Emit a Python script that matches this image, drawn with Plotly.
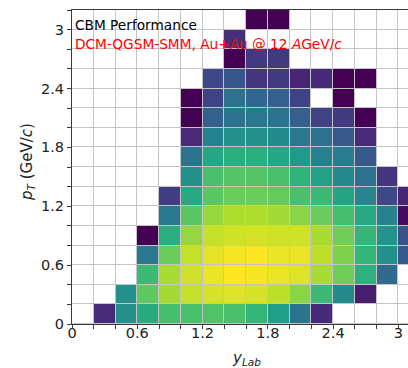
import plotly.graph_objects as go

# Bin edges of the (y_Lab, p_T) histogram
ylab_edges = [0.0, 0.2, 0.4, 0.6, 0.8, 1.0, 1.2, 1.4, 1.6, 1.8, 2.0, 2.2, 2.4, 2.6, 2.8, 3.0, 3.2]
pt_edges = [0.0, 0.2, 0.4, 0.6, 0.8, 1.0, 1.2, 1.4, 1.6, 1.8, 2.0, 2.2, 2.4, 2.6, 2.8, 3.0, 3.2]

# Relative yield per bin (percent of the maximum), one list per p_T bin; None = empty bin
N = None
pt_000_020 = [N, 12, 50, 61, 70, 71, 72, 71, 66, 56, 38, 11, N, N, N, N]
pt_020_040 = [N, N, 50, 75, 86, 91, 94, 95, 94, 90, 82, 68, 48, 8, N, N]
pt_040_060 = [N, N, N, 68, 87, 93, 97, 100, 99, 97, 95, 87, 78, 63, 34, N]
pt_060_080 = [N, N, N, 40, 77, 91, 96, 99, 100, 97, 97, 90, 80, 66, 50, 28]
pt_080_100 = [N, N, N, 0, 62, 84, 91, 93, 94, 93, 93, 87, 78, 66, 52, 25]
pt_100_120 = [N, N, N, N, 40, 74, 84, 88, 88, 86, 82, 77, 70, 60, 45, 3]
pt_120_140 = [N, N, N, N, 18, 60, 74, 77, 77, 76, 71, 68, 58, 46, 22, 10]
pt_140_160 = [N, N, N, N, N, 50, 71, 73, 73, 71, 65, 57, 47, 37, 15, N]
pt_160_180 = [N, N, N, N, N, 38, 59, 62, 62, 59, 54, 44, 42, 28, N, N]
pt_180_200 = [N, N, N, N, N, 12, 44, 50, 50, 48, 40, 37, 28, 12, N, N]
pt_200_220 = [N, N, N, N, N, 0, 30, 38, 40, 38, 30, 20, 17, 0, N, N]
pt_220_240 = [N, N, N, N, N, 0, 20, 37, 33, 30, 20, N, 0, N, N, N]
pt_240_260 = [N, N, N, N, N, N, 22, 27, 15, 17, 10, 11, 0, 0, N, N]
pt_260_280 = [N, N, N, N, N, N, N, 0, 17, 17, N, N, N, N, N, N]
pt_280_300 = [N, N, N, N, N, N, N, 13, N, N, N, N, N, N, N, N]
pt_300_320 = [N, N, N, N, N, N, N, N, 0, 0, N, N, N, N, N, N]

yield_rows = [
    pt_000_020, pt_020_040, pt_040_060, pt_060_080, pt_080_100, pt_100_120,
    pt_120_140, pt_140_160, pt_160_180, pt_180_200, pt_200_220, pt_220_240,
    pt_240_260, pt_260_280, pt_280_300, pt_300_320,
]

tick_vals = [0, 0.6, 1.2, 1.8, 2.4, 3.0]
tick_text = ["0", "0.6", "1.2", "1.8", "2.4", "3"]

W, H = 408, 368
ML, MR, MT, MB = 72, 0, 10, 44
FONT = "DejaVu Sans"
AXIS_COL = "#3a3a3a"
GRID_COL = "#c4c4c4"

fig = go.Figure()

# white cell layer: its 1px gaps reveal the grey plot background as grid lines
fig.add_trace(go.Heatmap(
    x=ylab_edges, y=pt_edges,
    z=[[0] * (len(ylab_edges) - 1) for _ in range(len(pt_edges) - 1)],
    colorscale=[[0, "white"], [1, "white"]], showscale=False,
    xgap=1, ygap=1, hoverinfo="skip",
))

fig.add_trace(go.Heatmap(
    x=ylab_edges, y=pt_edges, z=yield_rows,
    colorscale="Viridis", zmin=0, zmax=100, showscale=False,
    xgap=1, ygap=1,
))

x_span = (W - ML - MR) / 108.8

axis_common = dict(
    showgrid=False, zeroline=False,
    showline=True, linecolor=AXIS_COL, linewidth=1,
    ticks="outside", ticklen=4, tickwidth=1, tickcolor=AXIS_COL,
    tickvals=tick_vals, ticktext=tick_text,
    tickfont=dict(family=FONT, size=14.5, color="#222222"),
    minor=dict(tickvals=ylab_edges, ticks="outside", ticklen=4,
               tickwidth=1, tickcolor=AXIS_COL, showgrid=False),
)

fig.update_xaxes(range=[0, x_span], mirror=True, ticklabelstandoff=-8, **axis_common)
fig.update_yaxes(range=[0, 3.2], mirror=False, **axis_common)

fig.add_annotation(
    text="CBM Performance", xref="paper", yref="paper",
    x=(73 - ML) / (W - ML - MR), y=(H - MB - 24.5) / (H - MT - MB),
    xanchor="left", yanchor="middle", showarrow=False,
    font=dict(family=FONT, size=13.7, color="black"),
)
fig.add_annotation(
    text="DCM-QGSM-SMM, Au+Au @ 12 <i>A</i>GeV/<i>c</i>", xref="paper", yref="paper",
    x=(73 - ML) / (W - ML - MR), y=(H - MB - 44) / (H - MT - MB),
    xanchor="left", yanchor="middle", showarrow=False,
    font=dict(family=FONT, size=13.7, color="red"),
)
fig.add_annotation(
    text="<i>y</i><sub><i>Lab</i></sub>", xref="x", yref="paper",
    x=1.6, y=(H - MB - 358) / (H - MT - MB),
    xanchor="center", yanchor="middle", showarrow=False,
    font=dict(family=FONT, size=15, color="#222222"),
)
fig.add_annotation(
    text="<i>p</i><sub><i>T</i></sub> (GeV/<i>c</i>)", xref="paper", yref="paper",
    x=(27 - ML) / (W - ML - MR), y=(H - MB - 162) / (H - MT - MB),
    xanchor="center", yanchor="middle", textangle=-90, showarrow=False,
    font=dict(family=FONT, size=15, color="#222222"),
)

fig.update_layout(
    width=W, height=H,
    margin=dict(l=ML, r=MR, t=MT, b=MB, pad=0),
    paper_bgcolor="white", plot_bgcolor=GRID_COL,
    font=dict(family=FONT),
)

fig.write_html("out.html")
